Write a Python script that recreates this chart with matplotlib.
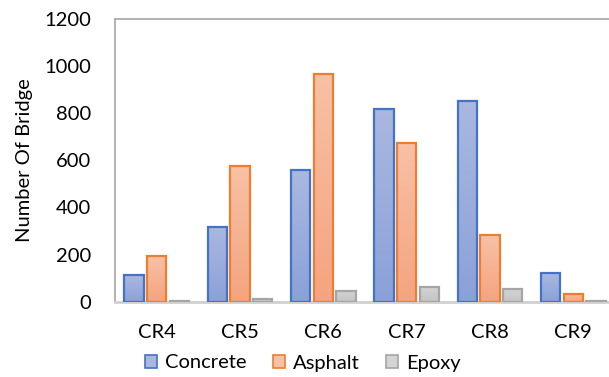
import numpy as np
import matplotlib
matplotlib.use("Agg")
import matplotlib.pyplot as plt
from matplotlib.colors import LinearSegmentedColormap
from matplotlib.patches import Patch

plt.rcParams['font.family'] = ['Lato', 'DejaVu Sans']

categories = ["CR4", "CR5", "CR6", "CR7", "CR8", "CR9"]
concrete = [112, 315, 558, 816, 851, 120]
asphalt = [195, 575, 965, 674, 284, 34]
epoxy = [4, 13, 47, 64, 53, 4]

series = [
    ("Concrete", concrete, "#4472C4", ("#aab8e0", "#8aa1d8")),
    ("Asphalt", asphalt, "#ED7D31", ("#f7c1a6", "#f4a47f")),
    ("Epoxy", epoxy, "#A5A5A5", ("#d4d4d4", "#c4c4c4")),
]

W, H = 609, 377
FS = 14.5
fig = plt.figure(figsize=(W / 100, H / 100), dpi=100)
ax = fig.add_axes([115 / W, (H - 301.7) / H, 500 / W, 283 / H])

x = np.arange(len(categories))
bar_w = 0.233
step = 0.273
grad = np.linspace(0, 1, 256).reshape(-1, 1)

for i, (name, vals, edge, (top_c, bot_c)) in enumerate(series):
    cmap = LinearSegmentedColormap.from_list(name, [bot_c, top_c])
    bars = ax.bar(x + (i - 1) * step, vals, width=bar_w, facecolor="none",
                  edgecolor=edge, linewidth=1.6, zorder=3)
    for b in bars:
        x0, y0 = b.get_x(), b.get_y()
        w, h = b.get_width(), b.get_height()
        im = ax.imshow(grad, cmap=cmap, origin="lower", aspect="auto",
                       extent=[x0, x0 + w, y0, y0 + h], zorder=2)
        im.set_clip_path(b)

ax.set_xlim(-0.5, len(categories) - 0.5)
ax.set_ylim(0, 1200)
ax.set_yticks(range(0, 1201, 200))
ax.set_xticks(x)
ax.set_xticklabels(categories)
ax.tick_params(axis="both", length=0, labelsize=FS, colors="black")
ax.tick_params(axis="x", pad=16)
ax.tick_params(axis="y", pad=17)
for side in ("left", "top", "right"):
    ax.spines[side].set_color("#acacac")
    ax.spines[side].set_linewidth(1.3)
ax.spines["bottom"].set_color("#d0d0d0")
ax.spines["bottom"].set_linewidth(2.0)

ax.set_ylabel("Number Of Bridge", fontsize=FS)
ax.yaxis.set_label_coords((33 - 115) / 500, 0.5)

handles = [Patch(facecolor=tc, edgecolor=ec, linewidth=1.2, label=n)
           for n, _, ec, (tc, bc) in series]
fig.legend(handles=handles, loc="center", bbox_to_anchor=(303 / W, 1 - 363 / H),
           ncol=3, frameon=False, fontsize=FS, handlelength=0.6,
           handleheight=0.6, handletextpad=0.4, columnspacing=1.3)

fig.savefig("out.png", dpi=100)
